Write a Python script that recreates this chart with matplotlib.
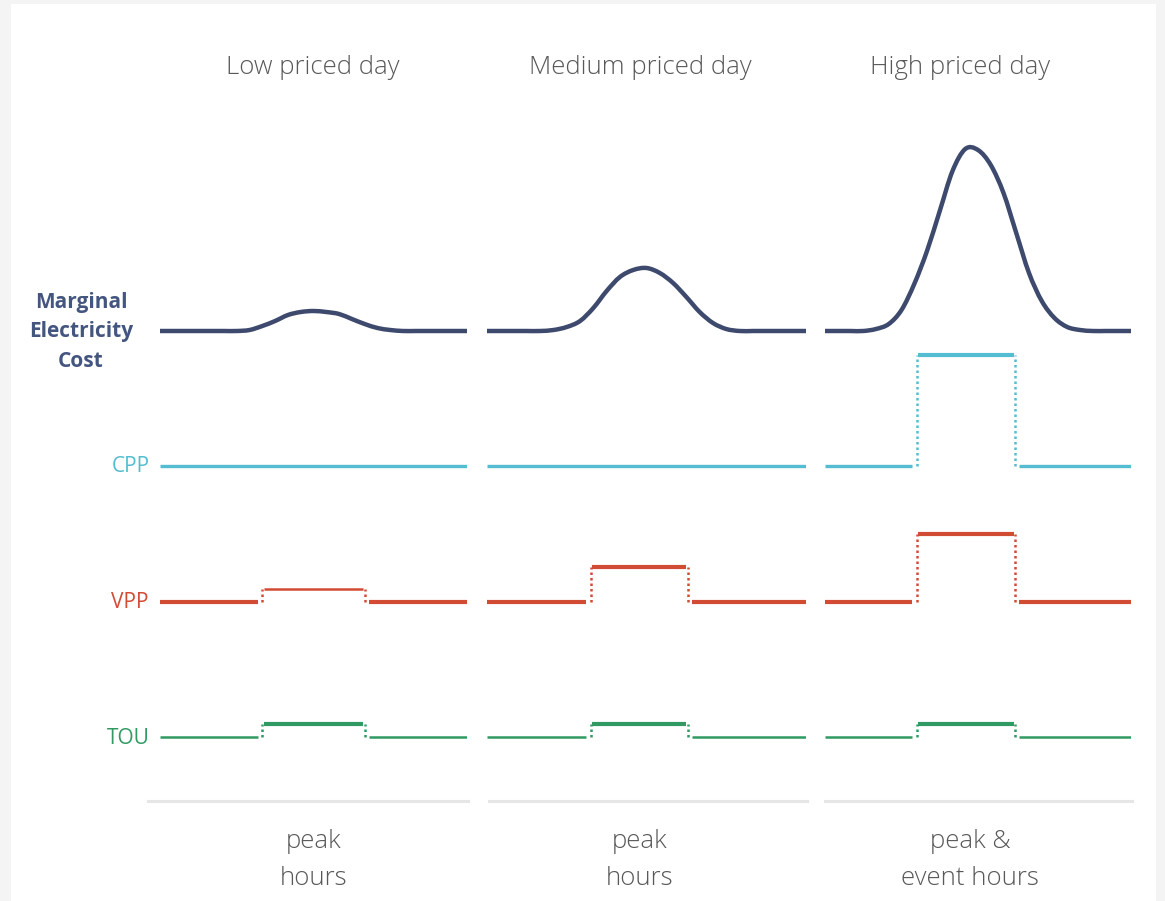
import matplotlib.pyplot as plt
from matplotlib.lines import Line2D
from matplotlib.patches import Rectangle, PathPatch
from matplotlib.path import Path

W, H = 1165, 901

days = ["Low priced day", "Medium priced day", "High priced day"]
peak_labels = ["peak\nhours", "peak\nhours", "peak &\nevent hours"]

hours = list(range(25))
# marginal electricity cost per hour (height above the flat base)
mec_low = [0, 0, 0, 0, 0, 0, 0, 1, 5, 10, 16, 19, 20, 19, 17, 12, 7, 3, 1, 0, 0, 0, 0, 0, 0]
mec_medium = [0, 0, 0, 0, 0, 1, 4, 10, 23, 40, 54, 61, 63, 58, 48, 34, 19, 8, 2, 0, 0, 0, 0, 0, 0]
mec_high = [0, 0, 0, 0, 2, 7, 21, 47, 80, 120, 160, 182, 181, 166, 138, 98, 58, 30, 13, 4, 1, 0, 0, 0, 0]

# start / end hour of the peak window on each day
peak_start = [8.0, 7.8, 7.2]
peak_end = [16.0, 15.1, 14.9]

# tariff premium during the peak window
cpp_level = [0, 0, 111]
vpp_level = [13, 35, 68]
tou_level = [13, 13, 13]

navy = "#3e4a6d"
cyan = "#55bdd1"
red = "#d24b34"
green = "#309a62"
grey_text = "#585858"

# pixel layout
panel_x = [(160, 467), (487, 806), (825, 1131)]
sep_x = [(148, 468), (489, 807), (825, 1132)]
title_x = [313, 640, 960]
foot_x = [314, 640, 970]
y_mec, y_cpp, y_vpp, y_tou = 331, 466, 602, 737


def fx(x):
    return x / W


def fy(y):
    return 1 - y / H


def smooth_path(xs, ys):
    # cubic bezier through every point (catmull-rom tangents)
    pts = list(zip(xs, ys))
    verts = [pts[0]]
    codes = [Path.MOVETO]
    n = len(pts)
    for k in range(n - 1):
        p0 = pts[max(k - 1, 0)]
        p1 = pts[k]
        p2 = pts[k + 1]
        p3 = pts[min(k + 2, n - 1)]
        c1 = (p1[0] + (p2[0] - p0[0]) / 6, p1[1] + (p2[1] - p0[1]) / 6)
        c2 = (p2[0] - (p3[0] - p1[0]) / 6, p2[1] - (p3[1] - p1[1]) / 6)
        verts += [c1, c2, p2]
        codes += [Path.CURVE4] * 3
    return Path(verts, codes)


def draw_step(ax, y0, start, end, level, color, lw_base, lw_top):
    gap = 0.35
    if level == 0:
        ax.plot([0, 24], [y0, y0], color=color, lw=lw_base, solid_capstyle="butt")
        return
    top = y0 - level
    ax.plot([0, start - gap], [y0, y0], color=color, lw=lw_base, solid_capstyle="butt")
    ax.plot([end + gap, 24], [y0, y0], color=color, lw=lw_base, solid_capstyle="butt")
    ax.plot([start + 0.1, end - 0.1], [top, top], color=color, lw=lw_top, solid_capstyle="butt")
    for xs in (start, end):
        ax.plot([xs, xs], [y0, top], color=color, lw=1.8, ls=(0, (1, 1.2)))


fig = plt.figure(figsize=(W / 100, H / 100), dpi=100)
fig.patch.set_facecolor("#f4f4f4")
fig.patches.append(Rectangle((fx(11), 0), fx(1156) - fx(11), fy(4), transform=fig.transFigure,
                             facecolor="white", edgecolor="none", zorder=-10))

mec = [mec_low, mec_medium, mec_high]
for i, (x0, x1) in enumerate(panel_x):
    ax = fig.add_axes([fx(x0), 0, fx(x1) - fx(x0), 1])
    ax.set_xlim(0, 24)
    ax.set_ylim(H, 0)
    ax.axis("off")

    curve = smooth_path(hours, [y_mec - v for v in mec[i]])
    ax.add_patch(PathPatch(curve, facecolor="none", edgecolor=navy, lw=3.2,
                           capstyle="butt", joinstyle="round"))
    draw_step(ax, y_cpp, peak_start[i], peak_end[i], cpp_level[i], cyan, 2.4, 3.0)
    draw_step(ax, y_vpp, peak_start[i], peak_end[i], vpp_level[i], red,
              3.0, 1.8 if i == 0 else 3.0)
    draw_step(ax, y_tou, peak_start[i], peak_end[i], tou_level[i], green, 1.8, 3.0)

    fig.text(fx(title_x[i]), fy(68), days[i], ha="center", va="center", fontsize=18.5,
             color=grey_text, family="Open Sans", fontweight="light")
    fig.text(fx(foot_x[i]), fy(860), peak_labels[i], ha="center", va="center",
             fontsize=18.5, color=grey_text, family="Open Sans", fontweight="light",
             linespacing=1.6)

for a, b in sep_x:
    fig.add_artist(Line2D([fx(a), fx(b)], [fy(801), fy(801)], transform=fig.transFigure,
                          color="#e6e6e6", lw=2.2))

fig.text(fx(81), fy(332), "Marginal\nElectricity\nCost", ha="center", va="center",
         fontsize=15, fontweight="bold", color="#44557f", family="Open Sans", linespacing=1.55)
fig.text(fx(150), fy(466), "CPP", ha="right", va="center", fontsize=15, color=cyan, family="Open Sans")
fig.text(fx(149), fy(602), "VPP", ha="right", va="center", fontsize=15, color=red, family="Open Sans")
fig.text(fx(150), fy(738), "TOU", ha="right", va="center", fontsize=15, color=green, family="Open Sans")

fig.savefig("out.png", dpi=100, facecolor=fig.get_facecolor())
